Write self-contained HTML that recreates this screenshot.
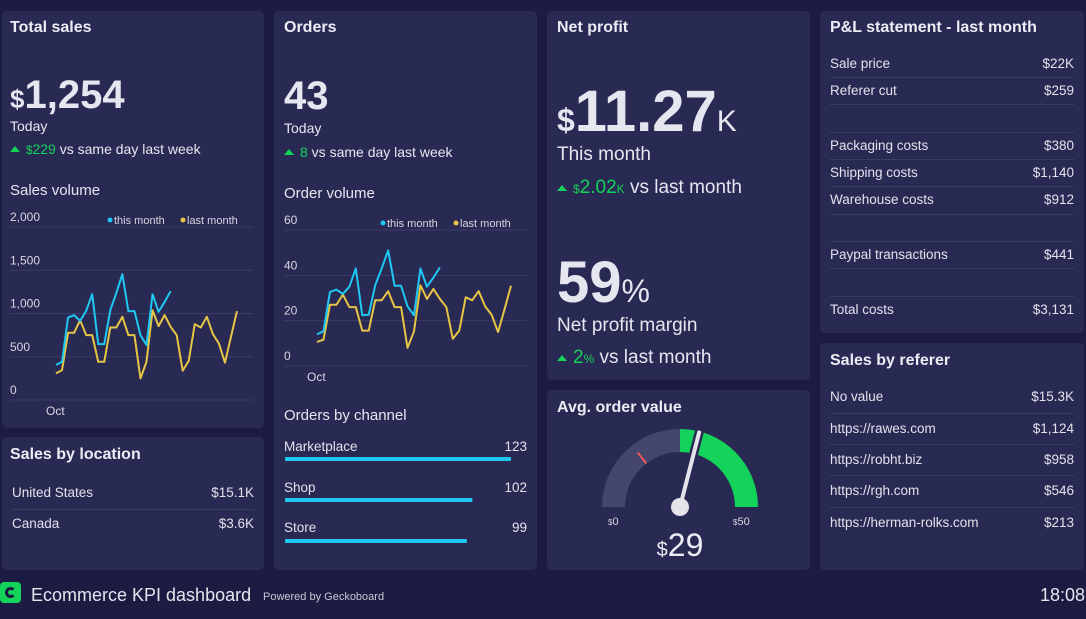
<!DOCTYPE html>
<html><head><meta charset="utf-8"><style>
*{margin:0;padding:0;box-sizing:border-box}
body{width:1086px;height:619px;background:#1c1b41;font-family:"Liberation Sans",sans-serif;color:#e6e6f0;position:relative;overflow:hidden}
.p{position:absolute;background:#292a53;border-radius:5px}
.t{position:absolute;font-weight:bold;font-size:16px;color:#ececf4}
.a{position:absolute;white-space:nowrap}
.b{font-weight:bold}
.g{color:#13d35a}
.row{position:absolute;left:10px;right:10px;font-size:13.5px;display:flex;justify-content:space-between;color:#e2e2ec}
.sep{position:absolute;left:10px;right:10px;height:1px;background:#3a3b66}
.up{display:inline-block;width:0;height:0;border-left:5px solid transparent;border-right:5px solid transparent;border-bottom:6px solid #13d35a;margin-right:6px;vertical-align:2px}
</style></head><body>

<div class="p" style="left:2px;top:11px;width:262px;height:417px">
 <div class="t" style="left:8px;top:8px">Total sales</div>
 <div class="a b" style="left:8px;top:62px;font-size:40px"><span style="font-size:26px">$</span>1,254</div>
 <div class="a" style="left:8px;top:107px;font-size:14px">Today</div>
 <div class="a" style="left:8px;top:130px;font-size:14px"><span class="up"></span><span class="g"><small>$</small>229</span> vs same day last week</div>
 <div class="a" style="left:8px;top:171px;font-size:15px">Sales volume</div>
</div>
<div class="p" style="left:2px;top:437px;width:262px;height:133px">
 <div class="t" style="left:8px;top:9px">Sales by location</div>
 <div class="row" style="top:48px"><span>United States</span><span>$15.1K</span></div>
 <div class="sep" style="top:72px"></div>
 <div class="row" style="top:79px"><span>Canada</span><span>$3.6K</span></div>
</div>

<div class="p" style="left:274px;top:11px;width:263px;height:559px">
 <div class="t" style="left:10px;top:8px">Orders</div>
 <div class="a b" style="left:10px;top:63px;font-size:40px">43</div>
 <div class="a" style="left:10px;top:109px;font-size:14px">Today</div>
 <div class="a" style="left:10px;top:133px;font-size:14px"><span class="up"></span><span class="g">8</span> vs same day last week</div>
 <div class="a" style="left:10px;top:174px;font-size:15px">Order volume</div>
 <div class="a" style="left:10px;top:396px;font-size:15px">Orders by channel</div>
 <div class="row" style="top:428px"><span>Marketplace</span><span>123</span></div>
 <div class="row" style="top:469px"><span>Shop</span><span>102</span></div>
 <div class="row" style="top:509px"><span>Store</span><span>99</span></div>
</div>

<div class="p" style="left:547px;top:11px;width:263px;height:369px">
 <div class="t" style="left:10px;top:8px">Net profit</div>
 <div class="a b" style="left:10px;top:67px;font-size:58px"><span style="font-size:32px">$</span>11.27<span style="font-size:30px;font-weight:normal">K</span></div>
 <div class="a" style="left:10px;top:133px;font-size:19px">This month</div>
 <div class="a" style="left:10px;top:166px;font-size:19px"><span class="up"></span><span class="g"><small style="font-size:12px">$</small>2.02<small style="font-size:12px">K</small></span> vs last month</div>
 <div class="a b" style="left:10px;top:238px;font-size:58px">59<span style="font-size:32px;font-weight:normal">%</span></div>
 <div class="a" style="left:10px;top:304px;font-size:19px">Net profit margin</div>
 <div class="a" style="left:10px;top:336px;font-size:19px"><span class="up"></span><span class="g">2<small style="font-size:12px">%</small></span> vs last month</div>
</div>

<div class="p" style="left:547px;top:390px;width:263px;height:180px">
 <div class="t" style="left:10px;top:9px">Avg. order value</div>
</div>

<div class="p" style="left:820px;top:11px;width:264px;height:322px">
 <div class="t" style="left:10px;top:8px">P&amp;L statement - last month</div>
 <div class="row" style="top:45px"><span>Sale price</span><span>$22K</span></div>
 <div class="sep" style="top:66px"></div>
 <div class="row" style="top:72px"><span>Referer cut</span><span>$259</span></div>
 <div class="sep" style="top:93px"></div>
 <div class="sep" style="top:121px"></div>
 <div class="row" style="top:127px"><span>Packaging costs</span><span>$380</span></div>
 <div class="sep" style="top:148px"></div>
 <div class="row" style="top:154px"><span>Shipping costs</span><span>$1,140</span></div>
 <div class="sep" style="top:175px"></div>
 <div class="row" style="top:181px"><span>Warehouse costs</span><span>$912</span></div>
 <div class="sep" style="top:203px"></div>
 <div class="sep" style="top:230px"></div>
 <div class="row" style="top:236px"><span>Paypal transactions</span><span>$441</span></div>
 <div class="sep" style="top:257px"></div>
 <div class="sep" style="top:285px"></div>
 <div class="row" style="top:291px"><span>Total costs</span><span>$3,131</span></div>
</div>

<div class="p" style="left:820px;top:343px;width:264px;height:227px">
 <div class="t" style="left:10px;top:9px">Sales by referer</div>
 <div class="row" style="top:46px"><span>No value</span><span>$15.3K</span></div>
 <div class="sep" style="top:70px"></div>
 <div class="row" style="top:78px"><span>https://rawes.com</span><span>$1,124</span></div>
 <div class="sep" style="top:101px"></div>
 <div class="row" style="top:109px"><span>https://robht.biz</span><span>$958</span></div>
 <div class="sep" style="top:132px"></div>
 <div class="row" style="top:140px"><span>https://rgh.com</span><span>$546</span></div>
 <div class="sep" style="top:164px"></div>
 <div class="row" style="top:172px"><span>https://herman-rolks.com</span><span>$213</span></div>
</div>

<div style="position:absolute;left:0;top:582px;width:21px;height:21px;background:#13d35a;border-radius:4px"><div style="position:absolute;left:5px;top:5px;width:11px;height:11px;border:3px solid #1c1b41;border-radius:50%;border-right-color:transparent"></div></div>
<div class="a" style="left:31px;top:585px;font-size:18px">Ecommerce KPI dashboard</div>
<div class="a" style="left:263px;top:591px;font-size:11px;color:#c8c8d8">Powered by Geckoboard</div>
<div class="a" style="left:1040px;top:585px;font-size:18px">18:08</div>

<svg id="svg" width="1086" height="619" style="position:absolute;left:0;top:0" font-family="Liberation Sans, sans-serif"></svg>

<script>
const salesDays=31;
const salesLast=[308,346,777,777,923,750,750,442,442,838,838,962,750,750,250,442,1038,854,981,846,750,338,454,877,838,962,762,654,431,731,1027];
const salesThis=[404,442,954,981,915,1031,1223,646,646,1038,1238,1454,1027,1027,750,635,1223,1019,1135,1258];
const salesTicks=[0,500,1000,1500,2000];
const salesTickLabels=["0","500","1,000","1,500","2,000"];
const ordersLast=[10.6,11.6,27,27,31.5,26,26,15.6,15.6,29,29,33,26,26,8,15.3,35.6,29.6,34,29.6,26,12,15.6,30.3,29,33,26.3,22.6,15,25,35.4];
const ordersThis=[14,15.3,32.6,33.7,31.8,35,43,22.4,22.6,35.6,43,51,35.4,35.4,26.3,22.4,43,35,39,43.5];
const ordersTicks=[0,20,40,60];
const channelNames=["Marketplace","Shop","Store"];
const channelValues=[123,102,99];
const gaugeValue=29, gaugeMin=0, gaugeMax=50, gaugeTarget=14.5;

const svg=document.getElementById('svg');
const NS='http://www.w3.org/2000/svg';
function mk(tag,attrs,parent){const e=document.createElementNS(NS,tag);for(const k in attrs)e.setAttribute(k,attrs[k]);(parent||svg).appendChild(e);return e;}

function chart(cfg){
 const x=i=>cfg.x0+(cfg.x1-cfg.x0)*i/(cfg.n-1);
 const y=v=>cfg.y0-(cfg.y0-cfg.y1)*v/cfg.max;
 cfg.ticks.forEach((t,i)=>{
  const gl=mk('line',{x1:cfg.lx,x2:cfg.x1+16,y1:y(t),y2:y(t),stroke:'#3a3b66','stroke-width':1});
  
  
  const tx=mk('text',{x:cfg.lx,y:y(t)-6,fill:'#d6d6e2','font-size':12});
  tx.textContent=cfg.labels[i];
  
  
 });
 const oc=mk('text',{x:x(0)-10,y:cfg.y0+15,fill:'#d6d6e2','font-size':12});oc.textContent='Oct';
 
 
 [[cfg.last,'#e6c545','last-month-line'],[cfg.cur,'#1ec8f2','this-month-line']].forEach(([d,c,n])=>{
  const p=mk('polyline',{points:d.map((v,i)=>x(i)+','+y(v)).join(' '),fill:'none',stroke:c,'stroke-width':2,'stroke-linejoin':'round'});
  
  
 });
 const ly=cfg.y1-7;
 mk('circle',{cx:cfg.legx,cy:ly,r:2.5,fill:'#1ec8f2'});
 const l1=mk('text',{x:cfg.legx+4,y:ly+4,fill:'#d6d6e2','font-size':11});l1.textContent='this month';
 
 
 mk('circle',{cx:cfg.legx+73,cy:ly,r:2.5,fill:'#e6c545'});
 const l2=mk('text',{x:cfg.legx+77,y:ly+4,fill:'#d6d6e2','font-size':11});l2.textContent='last month';
 
 
}
chart({x0:56,x1:237,y0:400,y1:227,max:2000,n:salesDays,ticks:salesTicks,labels:salesTickLabels,last:salesLast,cur:salesThis,lx:10,legx:110});
chart({x0:317,x1:511,y0:366,y1:230,max:60,n:salesDays,ticks:ordersTicks,labels:ordersTicks.map(String),last:ordersLast,cur:ordersThis,lx:284,legx:383});

const bx=285,bw=226/123;
channelValues.forEach((v,i)=>{
 const r=mk('rect',{x:bx,y:457+i*41,width:v*bw,height:4,fill:'#1ec8f2',rx:1});
 
 
});

const cx=680,cy=507,R=78,r0=55;
const ang=v=>Math.PI*(1-(v-gaugeMin)/(gaugeMax-gaugeMin));
function arc(v1,v2,fill,name){
 const a1=ang(v1),a2=ang(v2);
 const p=(rr,a)=>(cx+rr*Math.cos(a))+','+(cy-rr*Math.sin(a));
 const d='M'+p(R,a1)+' A'+R+','+R+' 0 0 1 '+p(R,a2)+' L'+p(r0,a2)+' A'+r0+','+r0+' 0 0 0 '+p(r0,a1)+' Z';
 const e=mk('path',{d:d,fill:fill});
 
 
}
arc(gaugeMin,25,'#45466d','gauge-track');
arc(25,gaugeMax,'#13d35a','gauge-green-band');
const na=ang(gaugeValue);
const tm=ang(gaugeTarget);
mk('line',{x1:cx+r0*Math.cos(tm),y1:cy-r0*Math.sin(tm),x2:cx+(r0+14)*Math.cos(tm),y2:cy-(r0+14)*Math.sin(tm),stroke:'#f05a5a','stroke-width':2});
mk('line',{x1:cx,y1:cy,x2:cx+(R+2)*Math.cos(na),y2:cy-(R+2)*Math.sin(na),stroke:'#292a53','stroke-width':9,'stroke-linecap':'round'});
const nd=mk('line',{x1:cx,y1:cy,x2:cx+(R-1)*Math.cos(na),y2:cy-(R-1)*Math.sin(na),stroke:'#e4e4ea','stroke-width':4,'stroke-linecap':'round'});


mk('circle',{cx:cx,cy:cy,r:9,fill:'#e4e4ea'});
const g0=mk('text',{x:608,y:525,fill:'#d6d6e2','font-size':11});g0.innerHTML='<tspan font-size="8">$</tspan>0';


const g1=mk('text',{x:733,y:525,fill:'#d6d6e2','font-size':11});g1.innerHTML='<tspan font-size="8">$</tspan>50';


const gv=mk('text',{x:680,y:556,fill:'#ececf4','font-size':32,'text-anchor':'middle'});gv.innerHTML='<tspan font-size="20">$</tspan>'+gaugeValue;


</script>
</body></html>
